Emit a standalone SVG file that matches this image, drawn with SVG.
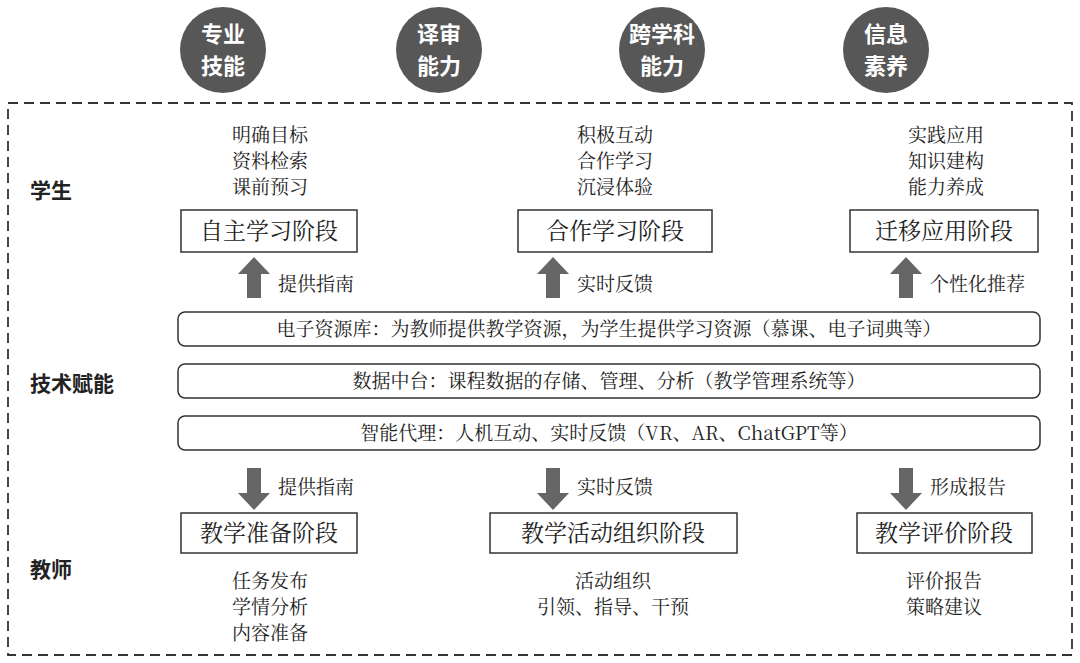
<svg xmlns="http://www.w3.org/2000/svg" width="1080" height="663" viewBox="0 0 1080 663">
<defs><style>
text{font-family:"Noto Serif CJK SC","Noto Sans CJK SC",sans-serif;fill:#222;font-size:19px;text-anchor:middle}
.c text{fill:#fff;font-size:22px;font-weight:bold;font-family:"Noto Sans CJK SC",sans-serif}
.lab{font-family:"Noto Sans CJK SC",sans-serif;font-weight:bold;font-size:21px;text-anchor:start}
.box{fill:#fff;stroke:#333;stroke-width:1.5}
.bar{fill:#fff;stroke:#333;stroke-width:1.5}
.ar{fill:#666}
.al{text-anchor:start}
.bt{font-size:23px}
</style></defs>
<rect width="1080" height="663" fill="#fff"/>
<g class="c" id="circles">
<g id="c1"><circle cx="223" cy="50" r="43" fill="#575757"/><text x="223" y="42">专业</text><text x="223" y="74">技能</text></g>
<g id="c2"><circle cx="439" cy="50" r="43" fill="#575757"/><text x="439" y="42">译审</text><text x="439" y="74">能力</text></g>
<g id="c3"><circle cx="662" cy="50" r="43" fill="#575757"/><text x="662" y="42">跨学科</text><text x="662" y="74">能力</text></g>
<g id="c4"><circle cx="886" cy="50" r="43" fill="#575757"/><text x="886" y="42">信息</text><text x="886" y="74">素养</text></g>
</g>
<rect x="8" y="103" width="1064" height="552" fill="none" stroke="#333" stroke-width="1.8" stroke-dasharray="10,6"/>
<text class="lab" x="30" y="198">学生</text>
<text class="lab" x="30" y="391">技术赋能</text>
<text class="lab" x="30" y="577">教师</text>
<g id="s1"><text x="270" y="142">明确目标</text><text x="270" y="168">资料检索</text><text x="270" y="194">课前预习</text>
<rect class="box" x="181" y="210" width="176" height="42"/><text class="bt" x="269" y="239">自主学习阶段</text></g>
<g id="s2"><text x="615" y="142">积极互动</text><text x="615" y="168">合作学习</text><text x="615" y="194">沉浸体验</text>
<rect class="box" x="518" y="210" width="194" height="42"/><text class="bt" x="615" y="239">合作学习阶段</text></g>
<g id="s3"><text x="946" y="142">实践应用</text><text x="946" y="168">知识建构</text><text x="946" y="194">能力养成</text>
<rect class="box" x="850" y="210" width="188" height="42"/><text class="bt" x="944" y="239">迁移应用阶段</text></g>
<g id="bars">
<g id="b1"><rect class="bar" x="178" y="312" width="862" height="34" rx="7"/><text x="609" y="336">电子资源库：为教师提供教学资源，为学生提供学习资源（慕课、电子词典等）</text></g>
<g id="b2"><rect class="bar" x="178" y="364" width="862" height="34" rx="7"/><text x="609" y="388">数据中台：课程数据的存储、管理、分析（教学管理系统等）</text></g>
<g id="b3"><rect class="bar" x="178" y="416" width="862" height="34" rx="7"/><text x="609" y="440">智能代理：人机互动、实时反馈（VR、AR、ChatGPT等）</text></g>
</g>
<g id="connectors">
<polygon class="ar" points="254,257 270,274 261,274 261,298 247,298 247,274 238,274"/>
<polygon class="ar" points="553,257 569,274 560,274 560,298 546,298 546,274 537,274"/>
<polygon class="ar" points="906,257 922,274 913,274 913,298 899,298 899,274 890,274"/>
<polygon class="ar" points="254,510 270,493 261,493 261,468 247,468 247,493 238,493"/>
<polygon class="ar" points="553,510 569,493 560,493 560,468 546,468 546,493 537,493"/>
<polygon class="ar" points="906,510 922,493 913,493 913,468 899,468 899,493 890,493"/>
<text class="al" x="278" y="291">提供指南</text>
<text class="al" x="577" y="291">实时反馈</text>
<text class="al" x="930" y="291">个性化推荐</text>
<text class="al" x="278" y="494">提供指南</text>
<text class="al" x="577" y="494">实时反馈</text>
<text class="al" x="930" y="494">形成报告</text>
</g>
<g id="t1"><rect class="box" x="181" y="513" width="176" height="40"/><text class="bt" x="269" y="541">教学准备阶段</text>
<text x="270" y="588">任务发布</text><text x="270" y="614">学情分析</text><text x="270" y="640">内容准备</text></g>
<g id="t2"><rect class="box" x="490" y="513" width="247" height="40"/><text class="bt" x="613" y="541">教学活动组织阶段</text>
<text x="613" y="588">活动组织</text><text x="613" y="614">引领、指导、干预</text></g>
<g id="t3"><rect class="box" x="857" y="513" width="175" height="40"/><text class="bt" x="944" y="541">教学评价阶段</text>
<text x="944" y="588">评价报告</text><text x="944" y="614">策略建议</text></g>
</svg>
